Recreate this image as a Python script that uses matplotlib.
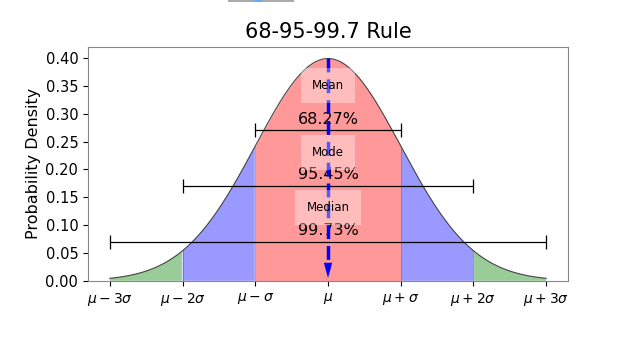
import numpy as np
import matplotlib.pyplot as plt
from matplotlib.patches import Rectangle

# data
x_ticks = [-3, -2, -1, 0, 1, 2, 3]
x_ticklabels = [r'$\mu-3\sigma$', r'$\mu-2\sigma$', r'$\mu-\sigma$', r'$\mu$',
                r'$\mu+\sigma$', r'$\mu+2\sigma$', r'$\mu+3\sigma$']
bar_halfwidths = [1, 2, 3]
bar_heights = [0.27, 0.17, 0.07]
pct_labels = ['68.27%', '95.45%', '99.73%']
pct_y = [0.29, 0.19, 0.09]
stat_names = ['Mean', 'Mode', 'Median']
stat_y = [0.35, 0.23, 0.132]

x = np.linspace(-3, 3, 600)
pdf = np.exp(-x**2 / 2) / np.sqrt(2 * np.pi)

fig = plt.figure(figsize=(6.4, 3.6), dpi=100)
ax = fig.add_axes([0.1375, 0.22, 0.75, 0.65])

ax.plot(x, pdf, color='#444444', lw=0.8)
ax.fill_between(x, pdf, where=(np.abs(x) <= 1), color='red', alpha=0.4, lw=0)
ax.fill_between(x, pdf, where=(np.abs(x) >= 1) & (np.abs(x) <= 2), color='blue', alpha=0.4, lw=0)
ax.fill_between(x, pdf, where=(np.abs(x) >= 2), color='green', alpha=0.4, lw=0)
for b in [-2, -1, 1, 2]:
    yb = np.exp(-b**2 / 2) / np.sqrt(2 * np.pi)
    ax.plot([b, b], [0, yb], color='#555555', lw=0.6, alpha=0.6)

for hw, h in zip(bar_halfwidths, bar_heights):
    ax.errorbar(0, h, xerr=hw, color='black', lw=0.9, capsize=5, capthick=0.9)

for t, y in zip(pct_labels, pct_y):
    ax.text(0, y, t, ha='center', va='center', fontsize=11.5, zorder=2.5)

# dashed mean line with arrow head
ax.plot([0, 0], [0.4, 0.02], color='blue', lw=2.5, ls=(0, (4, 2)), zorder=3)
ax.annotate('', xy=(0, 0), xytext=(0, 0.03),
            arrowprops=dict(arrowstyle='-|>,head_width=0.3,head_length=1.1',
                            color='blue', lw=0), zorder=3)

for t, y in zip(stat_names, stat_y):
    ax.text(0, y, t, ha='center', va='center', fontsize=8.5, zorder=5,
            bbox=dict(facecolor='white', alpha=0.35, edgecolor='none', pad=8))

ax.set_xlim(-3.3, 3.3)
ax.set_ylim(0, 0.42)
ax.set_xticks(x_ticks)
ax.set_xticklabels(x_ticklabels)
ax.set_yticks(np.arange(0, 0.41, 0.05))
ax.tick_params(axis='x', labelsize=10)
ax.tick_params(axis='y', labelsize=10.5)
ax.set_ylabel('Probability Density', fontsize=11.5)
ax.yaxis.set_label_coords(-0.097, 0.5)
ax.set_title('68-95-99.7 Rule', fontsize=15)
for s in ax.spines.values():
    s.set_color('#888888')

# clipped legend-like strip at the top edge
fig.patches.append(Rectangle((0.356, 0.995), 0.104, 0.01, transform=fig.transFigure,
                             facecolor='#aaaaaa', edgecolor='none'))
fig.patches.append(Rectangle((0.397, 0.995), 0.013, 0.01, transform=fig.transFigure,
                             facecolor='#66aaff', edgecolor='none'))

fig.savefig('out.png', dpi=100)
